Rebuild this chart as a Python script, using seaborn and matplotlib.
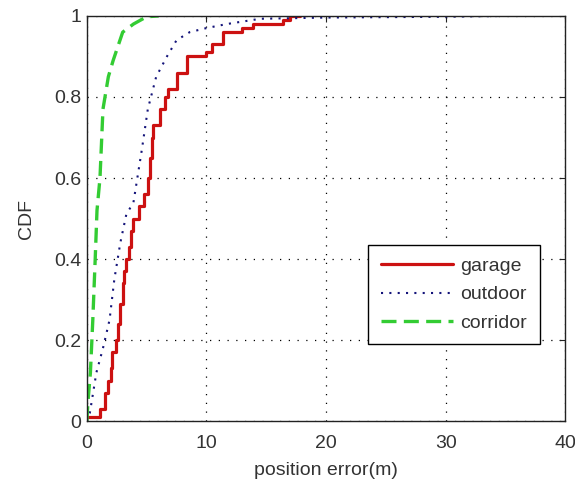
import numpy as np
import pandas as pd
import matplotlib
matplotlib.use("Agg")
import matplotlib.pyplot as plt
import seaborn as sns

garage_x = [0, 1.1, 1.5, 1.8, 2.0, 2.1, 2.4, 2.6, 2.8, 3.0, 3.15, 3.3, 3.5, 3.7,
            3.9, 4.4, 4.8, 5.1, 5.3, 5.45, 5.5, 6.1, 6.5, 6.8, 7.5, 8.4, 10.0,
            10.5, 11.4, 13.0, 13.9, 16.4, 17.0, 17.8]
garage_y = [0.01, 0.03, 0.07, 0.10, 0.13, 0.17, 0.20, 0.24, 0.29, 0.34, 0.37, 0.40,
            0.43, 0.47, 0.50, 0.53, 0.56, 0.60, 0.65, 0.70, 0.73, 0.77, 0.80, 0.82,
            0.86, 0.90, 0.91, 0.93, 0.96, 0.97, 0.98, 0.99, 1.0, 1.0]

outdoor_x = [0, 0.25, 0.8, 1.35, 1.9, 2.3, 2.8, 3.3, 3.9, 4.6, 5.1, 5.8, 6.7, 7.5,
             8.6, 10.0, 11.7, 14.5, 20.0, 30.0, 35.0]
outdoor_y = [0.0, 0.02, 0.12, 0.18, 0.25, 0.35, 0.44, 0.51, 0.54, 0.67, 0.77, 0.85,
             0.90, 0.94, 0.96, 0.97, 0.98, 0.993, 0.996, 0.998, 1.0]

corridor_x = [0, 0.1, 0.3, 0.5, 0.7, 0.85, 1.1, 1.35, 1.8, 2.2, 3.0, 3.9, 5.0, 6.0]
corridor_y = [0.0, 0.05, 0.12, 0.25, 0.40, 0.52, 0.60, 0.77, 0.85, 0.89, 0.96, 0.98,
              0.998, 1.0]

x_ticks = [0, 10, 20, 30, 40]
y_ticks = [0, 0.2, 0.4, 0.6, 0.8, 1]
y_tick_labels = ["0", "0.2", "0.4", "0.6", "0.8", "1"]

sns.set_style("white")
plt.rcParams["font.family"] = ["Liberation Sans", "DejaVu Sans"]
fs = 14
txt = "#333333"

fig = plt.figure(figsize=(5.75, 4.83), dpi=100)
ax = fig.add_axes([0.151, 0.128, 0.832, 0.839])

sns.lineplot(x=garage_x, y=garage_y, ax=ax, color="#cc1111", linewidth=2.3,
             drawstyle="steps-post", estimator=None, sort=False, label="garage")
sns.lineplot(x=outdoor_x, y=outdoor_y, ax=ax, color="#14147a", linewidth=1.5,
             linestyle=(0, (1, 3)), estimator=None, sort=False, label="outdoor")
sns.lineplot(x=corridor_x, y=corridor_y, ax=ax, color="#33cc33", linewidth=2.4,
             linestyle=(0, (4.5, 2.2)), estimator=None, sort=False, label="corridor")

ax.set_xlim(0, 40)
ax.set_ylim(0, 1)
ax.set_xticks(x_ticks)
ax.set_yticks(y_ticks)
ax.set_yticklabels(y_tick_labels)
ax.tick_params(direction="in", length=4, labelsize=fs, colors="#222222",
               labelcolor=txt, top=True, right=True)
ax.tick_params(axis="x", pad=10)
ax.tick_params(axis="y", pad=4)
ax.grid(True, linestyle=(0, (1, 6)), color="black", linewidth=0.9)
for s in ax.spines.values():
    s.set_color("#222222")
    s.set_linewidth(1.0)
ax.set_xlabel("position error(m)", fontsize=fs, color=txt, labelpad=7)
ax.set_ylabel("CDF", fontsize=fs, color=txt, labelpad=14)

leg = ax.legend(loc="upper left", bbox_to_anchor=(0.588, 0.435), fontsize=fs,
                frameon=True, fancybox=False, edgecolor="black", framealpha=1,
                handlelength=3.7, handletextpad=0.4, borderpad=0.65,
                labelspacing=0.55, borderaxespad=0)
leg.get_frame().set_linewidth(1.0)
for t in leg.get_texts():
    t.set_color(txt)

fig.savefig("out.png", dpi=100)
